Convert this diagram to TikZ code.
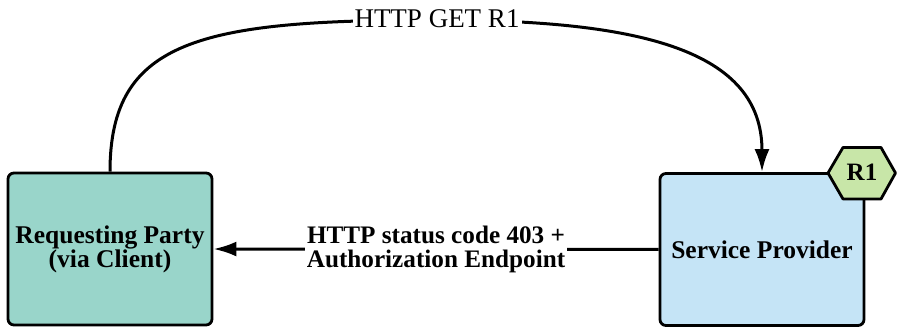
\documentclass[tikz,border=0pt]{standalone}
\usepackage{fontspec}
\setmainfont{Liberation Serif}
\usetikzlibrary{arrows.meta}
\definecolor{rpfill}{HTML}{99D5CA}
\definecolor{spfill}{HTML}{C5E4F6}
\definecolor{hexfill}{HTML}{C8E6A8}
\tikzset{
  box/.style={draw, line width=2.8pt, rounded corners=6pt, minimum width=204pt,
    minimum height=152pt, inner sep=0pt, align=center,
    font=\bfseries\fontsize{25.5}{24}\selectfont},
  conn/.style={line width=3pt, -{Latex[length=23pt,width=15pt]}},
  lbl/.style={fill=white, inner sep=2pt, align=center},
}
\begin{document}
\begin{tikzpicture}[x=1pt,y=-1pt]
\useasboundingbox (0,0) rectangle (897,328);
\node[box, fill=rpfill] (rp) at (110,249) {Requesting Party\\(via Client)};
\node[box, fill=spfill] (sp) at (762,249.5) {Service Provider};
% hexagon R1
\filldraw[fill=hexfill, line width=2.8pt, line join=round]
  (828,173) -- (843,147.5) -- (881,147.5) -- (895.5,173) -- (881,199) -- (843,199) -- cycle;
\node[font=\bfseries\fontsize{25}{25}\selectfont] (r1) at (862,172) {R1};
% top curve
\draw[conn] (rp.north) .. controls (110,40) and (200,20) .. (437,20)
  .. controls (640,20) and (762,50) .. (sp.north);
\node[lbl, font=\fontsize{27}{27}\selectfont] (get) at (437,19) {HTTP GET R1};
% bottom arrow
\draw[conn] (sp.west) -- (rp.east)
  node[midway, lbl, font=\bfseries\fontsize{25.2}{24}\selectfont] (resp)
  {HTTP status code 403 +\\Authorization Endpoint};
\end{tikzpicture}
\end{document}
